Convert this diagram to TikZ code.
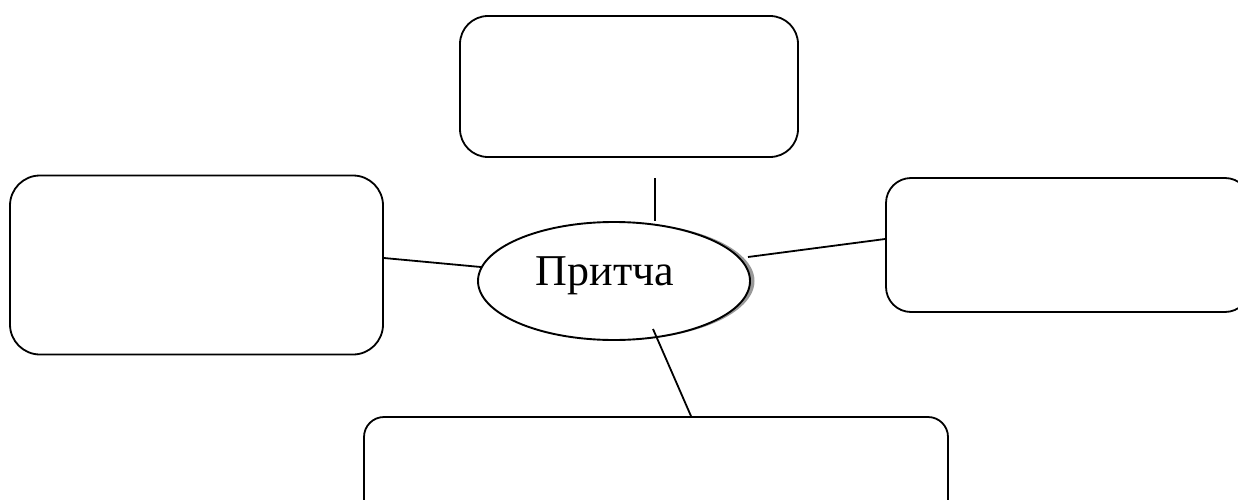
\documentclass[tikz,border=0pt]{standalone}
\usepackage{fontspec}
\setmainfont{Liberation Serif}
\usetikzlibrary{shapes.geometric,shadows}

\tikzset{
	blank/.style={draw,line width=1.8pt,rounded corners=#1,inner sep=0pt},
	blank/.default=28pt,
}

\begin{document}
\begin{tikzpicture}[x=1pt,y=-1pt]

\useasboundingbox (0,0) rectangle (1238,500);

% empty boxes round the centre
\node[blank,minimum width=338pt,minimum height=141pt] (topbox) at (629,86.5) {};
\node[blank=30pt,minimum width=373pt,minimum height=179pt] (leftbox) at (196.5,265) {};
\node[blank=25pt,minimum width=364pt,minimum height=134pt] (rightbox) at (1068,245) {};
\node[blank=20pt,minimum width=584pt,minimum height=108pt] (botbox) at (656,471) {};

% centre
\node[ellipse,draw,line width=1.9pt,fill=white,inner sep=0pt,
	minimum width=272pt,minimum height=118pt,
	drop shadow={shadow xshift=4.5pt,shadow yshift=0pt,fill=gray!80,opacity=1}] (ell) at (614,281) {};
\node[font=\fontsize{44}{50}\selectfont] (lbl) at (605,276) {Притча};

% connectors
\coordinate (topfree) at (655,178);
\coordinate (rightfree) at (748,257);
\coordinate (botfree) at (653,329);
\draw[line width=1.8pt] (topfree)--(topfree |- ell.north);
\draw[line width=1.8pt] ([yshift=7pt]leftbox.east)--(ell.174);
\draw[line width=1.8pt] (rightfree)--([yshift=6pt]rightbox.west);
\draw[line width=1.8pt] (botfree)--([xshift=35pt]botbox.north);

\end{tikzpicture}
\end{document}
